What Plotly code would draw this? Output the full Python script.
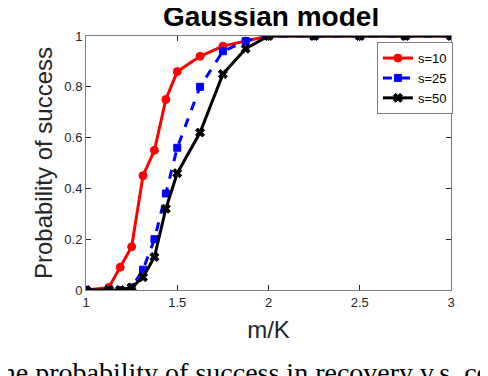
import plotly.graph_objects as go

# m/K sample points
ratio = [1, 1.125, 1.1875, 1.25, 1.3125, 1.375, 1.4375, 1.5,
         1.625, 1.75, 1.875, 2, 2.25, 2.5, 2.75, 3]

prob_s10 = [0, 0.01, 0.09, 0.17, 0.45, 0.55, 0.75, 0.86,
            0.92, 0.96, 0.98, 1, 1, 1, 1, 1]
prob_s25 = [0, 0, 0, 0.01, 0.08, 0.20, 0.38, 0.56,
            0.80, 0.94, 0.98, 1, 1, 1, 1, 1]
prob_s50 = [0, 0, 0, 0.01, 0.05, 0.13, 0.32, 0.46,
            0.62, 0.85, 0.95, 1, 1, 1, 1, 1]

x_ticks = [1, 1.5, 2, 2.5, 3]
y_ticks = [0, 0.2, 0.4, 0.6, 0.8, 1]

series = [
    ("s=10", prob_s10, "#ff0000", "solid", "circle", 8),
    ("s=25", prob_s25, "#0000ff", "dash", "square", 7),
    ("s=50", prob_s50, "#000000", "solid", "x", 8),
]

fig = go.Figure()
for name, vals, color, dash, symbol, msize in series:
    fig.add_trace(go.Scatter(
        x=ratio, y=vals, name=name, mode="lines+markers",
        line=dict(color=color, width=3, dash=dash),
        marker=dict(symbol=symbol, size=msize, color=color,
                    line=dict(color=color, width=1)),
    ))

axis_style = dict(
    showgrid=False, zeroline=False, showline=True, linecolor="#7f7f7f",
    linewidth=1, mirror="ticks", ticks="inside", ticklen=5,
    tickcolor="#262626", tickfont=dict(size=13, color="#262626"),
)

# page has an 8px body margin, so the figure is a bit smaller than the window
fig.update_layout(
    width=480, height=368,
    margin=dict(l=78, r=37, t=28, b=86),
    paper_bgcolor="white", plot_bgcolor="white",
    font=dict(family="Liberation Sans, Arial", color="#262626"),
    title=dict(text="<b>Gaussian model</b>", x=0.548, xanchor="center",
               y=0.979, yanchor="middle",
               font=dict(size=28, color="black")),
    xaxis=dict(range=[1, 3], tickvals=x_ticks, ticktext=["1", "1.5", "2", "2.5", "3"],
               title=dict(text="m/K", font=dict(size=24, color="#262626"), standoff=12),
               **axis_style),
    yaxis=dict(range=[0, 1], tickvals=y_ticks, ticktext=["0", "0.2", "0.4", "0.6", "0.8", "1"],
               title=dict(text="Probability of success", font=dict(size=24, color="#262626"),
                          standoff=4),
               **axis_style),
    legend=dict(x=0.797, y=0.976, xanchor="left", yanchor="top",
                bgcolor="white", bordercolor="#7f7f7f", borderwidth=1,
                font=dict(size=13, color="black"), tracegroupgap=0,
                itemwidth=30),
    showlegend=True,
)

fig.add_annotation(
    text="the probability of success in recovery v.s. com",
    xref="paper", yref="paper", x=-0.258, y=-0.256,
    xanchor="left", yanchor="top", showarrow=False,
    font=dict(family="Liberation Serif, Times New Roman", size=28, color="black"),
)

fig.write_html("out.html")
